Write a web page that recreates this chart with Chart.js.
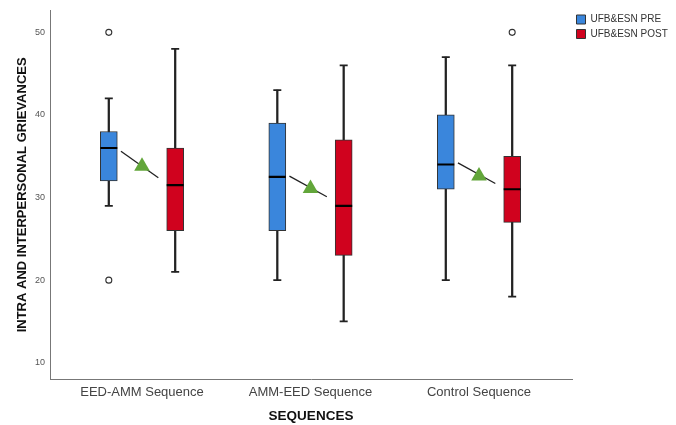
<!DOCTYPE html>
<html>
<head>
<meta charset="utf-8">
<script src="https://cdn.jsdelivr.net/npm/chart.js@4/dist/chart.umd.min.js"></script>
<style>
  body { margin: 0; background: #fff; }
</style>
</head>
<body>
<canvas id="chart" width="676" height="425"></canvas>
<script>
const categories = ['EED-AMM Sequence', 'AMM-EED Sequence', 'Control Sequence'];
const yTicks = [10, 20, 30, 40, 50];

// five-number summaries per sequence
const preMin = [29, 20, 20];
const preQ1 = [32, 26, 31];
const preMedian = [36, 32.5, 34];
const preQ3 = [38, 39, 40];
const preMax = [42, 43, 47];
const preOutliers = [[50, 20], [], []];

const postMin = [21, 15, 18];
const postQ1 = [26, 23, 27];
const postMedian = [31.5, 29, 31];
const postQ3 = [36, 37, 35];
const postMax = [48, 46, 46];
const postOutliers = [[], [], [50]];

// green triangle and the connector line through it
const triangleValues = [33.8, 31.1, 32.6];
const connectorStart = [35.6, 32.6, 34.2];
const connectorEnd = [32.4, 30.1, 31.7];

const dodge = 0.197;
const blue = '#3a86dc';
const red = '#d0021e';
const ink = '#222';

function boxes(label, q1, q3, color, side) {
    return {
        type: 'bar', label, order: 4, grouped: false,
        data: q1.map((v, i) => ({ x: i + side * dodge, y: [v, q3[i]] })),
        backgroundColor: color, borderColor: '#333', borderWidth: 1,
        borderSkipped: false, barThickness: 17
    };
}

function whiskers(min, max, side) {
    return {
        type: 'bar', label: 'whisker', order: 5, grouped: false,
        data: min.map((v, i) => ({ x: i + side * dodge, y: [v, max[i]] })),
        backgroundColor: ink, borderWidth: 0, barThickness: 1.6
    };
}

function caps(min, max, side) {
    return {
        type: 'scatter', label: 'cap', order: 1,
        data: min.concat(max).map((v, i) => ({ x: (i % min.length) + side * dodge, y: v })),
        pointStyle: 'line', pointRadius: 4, pointBorderWidth: 1.8,
        pointBorderColor: ink
    };
}

function outliers(list, side) {
    const data = [];
    list.forEach((vals, i) => vals.forEach(v => data.push({ x: i + side * dodge, y: v })));
    return {
        type: 'scatter', label: 'outlier', order: 1, data,
        pointStyle: 'circle', pointRadius: 3, pointBorderWidth: 1.1,
        pointBorderColor: '#333', pointBackgroundColor: '#fff'
    };
}

const connectors = categories.map((c, i) => ({
    type: 'line', label: 'connector', order: 3,
    data: [{ x: i - 0.125, y: connectorStart[i] }, { x: i + 0.097, y: connectorEnd[i] }],
    borderColor: ink, borderWidth: 1.3, pointRadius: 0
}));

Chart.defaults.font.family = '"Liberation Sans", Arial, sans-serif';

new Chart(document.getElementById('chart'), {
    type: 'bar',
    data: {
        datasets: [
            boxes('UFB&ESN PRE', preQ1, preQ3, blue, -1),
            boxes('UFB&ESN POST', postQ1, postQ3, red, 1),
            whiskers(preMin, preMax, -1),
            whiskers(postMin, postMax, 1),
            caps(preMin, preMax, -1),
            caps(postMin, postMax, 1),
            {
                type: 'scatter', label: 'median', order: 1,
                data: preMedian.map((v, i) => ({ x: i - dodge, y: v }))
                    .concat(postMedian.map((v, i) => ({ x: i + dodge, y: v }))),
                pointStyle: 'line', pointRadius: 8.5, pointBorderWidth: 2.2,
                pointBorderColor: '#000'
            },
            outliers(preOutliers, -1),
            outliers(postOutliers, 1),
            ...connectors,
            {
                type: 'scatter', label: 'triangle', order: 2,
                data: triangleValues.map((v, i) => ({ x: i, y: v })),
                pointStyle: 'triangle', pointRadius: 9, pointBorderWidth: 0,
                pointBackgroundColor: '#62a63a', pointBorderColor: '#62a63a'
            }
        ]
    },
    options: {
        responsive: false,
        animation: false,
        layout: { padding: { top: 10, left: 0, right: 0, bottom: 0 } },
        plugins: {
            tooltip: { enabled: false },
            legend: {
                position: 'right',
                align: 'start',
                maxWidth: 104,
                labels: {
                    filter: item => item.text.startsWith('UFB'),
                    boxWidth: 9, boxHeight: 9, padding: 4.5,
                    color: '#333', font: { size: 10 }
                }
            }
        },
        scales: {
            x: {
                type: 'linear',
                offset: false,
                min: -0.546, max: 2.552,
                grid: { display: false, drawTicks: false, tickLength: 0 },
                border: { color: '#777' },
                afterBuildTicks: s => { s.ticks = categories.map((c, i) => ({ value: i })); },
                afterFit: s => { s.height = 46; },
                ticks: {
                    autoSkip: false, maxRotation: 0, padding: 6,
                    color: '#444', font: { size: 13 },
                    callback: v => categories[v]
                },
                title: {
                    display: true, text: 'SEQUENCES', color: '#111',
                    font: { size: 13.5, weight: 'bold' }, padding: { top: 0, bottom: 1 }
                }
            },
            y: {
                min: 8.03, max: 52.62,
                grid: { display: false, drawTicks: false, tickLength: 0 },
                border: { color: '#777' },
                afterBuildTicks: s => { s.ticks = yTicks.map(v => ({ value: v })); },
                afterFit: s => { s.width = 50; },
                ticks: { padding: 5, color: '#555', font: { size: 9 } },
                title: {
                    display: true, text: 'INTRA AND INTERPERSONAL GRIEVANCES', color: '#111',
                    font: { size: 13, weight: 'bold' }, padding: { top: 15, bottom: 0 }
                }
            }
        }
    }
});
</script>
</body>
</html>
